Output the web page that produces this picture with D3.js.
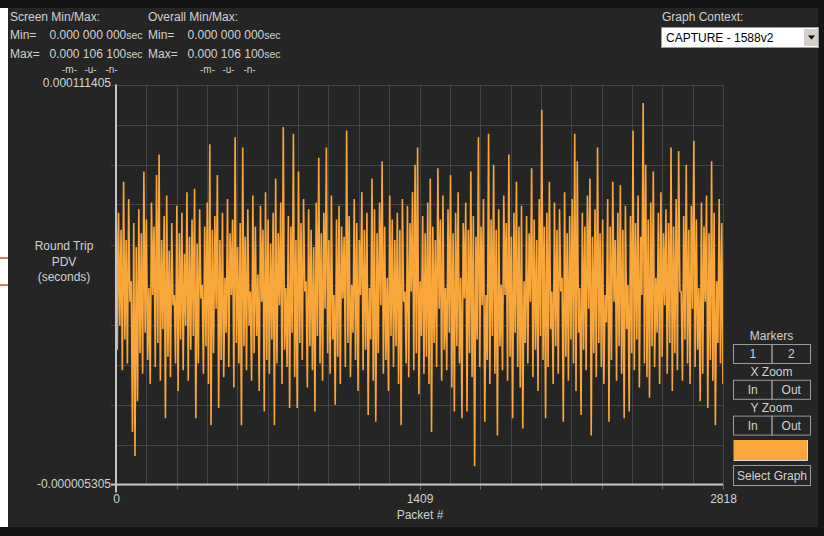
<!DOCTYPE html>
<html>
<head>
<meta charset="utf-8">
<script src="https://cdn.jsdelivr.net/npm/d3@7"></script>
<style>
body { margin: 0; background: #151515; }
svg { display: block; font-family: "Liberation Sans", Arial, sans-serif; }
</style>
</head>
<body>
<div class="container"></div>
<script>
// round trip PDV, microseconds: column tops and bottoms, left to right
const highs = [
  88, 74, 69, 83, 66, 78, 54, 71, 64, 75,
  68, 86, 72, 52, 77, 70, 85, 91, 66, 73,
  79, 63, 71, 50, 76, 68, 74, 62, 80, 67,
  72, 81, 65, 75, 53, 70, 77, 94, 69, 73,
  85, 66, 74, 55, 78, 68, 72, 96, 64, 71,
  93, 67, 75, 51, 79, 70, 56, 76, 69, 80,
  72, 65, 74, 84, 68, 77, 99, 52, 73, 70,
  97, 66, 86, 71, 78, 54, 75, 69, 64, 77,
  90, 68, 74, 93, 66, 79, 50, 72, 76, 70,
  67, 98, 73, 53, 78, 71, 66, 80, 69, 74,
  52, 84, 75, 68, 77, 89, 70, 55, 79, 72,
  66, 74, 69, 78, 51, 76, 71, 80, 88, 93,
  54, 73, 68, 77, 84, 70, 66, 87, 72, 79,
  52, 75, 85, 68, 74, 80, 55, 71, 77, 69,
  86, 73, 67, 96, 70, 78, 50, 97, 72, 88,
  69, 75, 53, 79, 71, 91, 67, 74, 83, 70,
  76, 54, 73, 68, 87, 72, 66, 78, 104, 70,
  74, 83, 51, 77, 69, 75, 55, 80, 68, 73,
  78, 97, 89, 52, 74, 70, 79, 84, 67, 75,
  93, 68, 72, 50, 78, 70, 83, 66, 74, 82,
  69, 76, 53, 73, 98, 71, 79, 67, 106, 88,
  72, 77, 86, 55, 74, 80, 68, 75, 71, 93,
  70, 78, 92, 51, 73, 88, 69, 76, 95, 72,
  52, 77, 70, 79, 68, 89, 74, 54, 78, 71
];
const lows = [
  34, 41, 28, 37, 30, 48, 10, 3, 19, 33,
  27, 39, 31, 24, 50, 29, 36, 25, 40, 14,
  32, 26, 47, 30, 22, 37, 28, 41, 25, 34,
  38, 14, 30, 49, 27, 35, 24, 12, 33, 46,
  17, 31, 26, 39, 29, 50, 23, 36, 30, 12,
  35, 28, 41, 25, 33, 38, 22, 48, 16, 31,
  27, 37, 12, 30, 47, 24, 34, 29, 17, 39,
  26, 17, 36, 31, 51, 23, 35, 28, 16, 38,
  30, 25, 46, 33, 27, 37, 18, 32, 24, 49,
  29, 36, 26, 39, 31, 22, 50, 28, 34, 15,
  37, 25, 13, 33, 47, 27, 31, 22, 38, 29,
  35, 24, 12, 48, 30, 26, 51, 28, 33, 21,
  38, 27, 32, 24, 10, 36, 29, 46, 25, 34,
  28, 39, 23, 16, 35, 30, 14, 49, 16, 33,
  26, 0, 37, 29, 47, 13, 31, 24, 38, 27,
  9, 35, 28, 50, 25, 32, 14, 39, 29, 23,
  11, 36, 30, 48, 26, 34, 22, 38, 31, 14,
  29, 40, 24, 35, 27, 51, 13, 32, 25, 37,
  30, 22, 39, 15, 34, 28, 46, 9, 33, 26,
  36, 29, 24, 42, 13, 31, 48, 25, 35, 27,
  14, 40, 16, 33, 28, 37, 23, 50, 30, 26,
  20, 35, 29, 39, 24, 32, 47, 27, 36, 22,
  33, 28, 51, 25, 37, 30, 24, 46, 29, 34,
  19, 27, 48, 17, 31, 25, 12, 36, 30, 24
];
const packetCount = 2818;
const xTicks = [0, 1409, 2818];
const yExtent = [-0.000005305, 0.000111405];
const statTitles = ["Screen Min/Max:", "Overall Min/Max:"];
const statRows = [["Min=", "0.000 000 000"], ["Max=", "0.000 106 100"]];
const unitMarks = ["-m-", "-u-", "-n-"];
const yTitle = ["Round Trip", "PDV", "(seconds)"];
const xTitle = "Packet #";
const graphContext = "CAPTURE - 1588v2";
const buttonGroups = [["Markers", "1", "2"], ["X Zoom", "In", "Out"], ["Y Zoom", "In", "Out"]];

let pdv = highs.flatMap((h, k) => [h, lows[k]]);
let packets = pdv.map((d, i) => i * packetCount / (pdv.length - 1));

let width = 824, height = 536;
let plot = {left: 116, right: 723, top: 84.5, bottom: 484.5};
let textColor = '#d2d2d2', gridColor = '#464646', lineColor = '#f9a73b';

let svg = d3.select('.container').append('svg')
  .attr('width', width)
  .attr('height', height);

// window frame
svg.append('rect').attr('width', width).attr('height', height).attr('fill', '#151515');
svg.append('rect').attr('x', 0).attr('y', 8).attr('width', 8).attr('height', 519).attr('fill', '#ffffff');
[258, 285].forEach(yy => {
  svg.append('line').attr('x1', 0).attr('x2', 8).attr('y1', yy).attr('y2', yy)
    .attr('stroke', '#e04040').attr('stroke-width', 1.5);
});
svg.append('rect').attr('x', 8).attr('y', 8).attr('width', 810).attr('height', 519).attr('fill', '#252525');

let x = d3.scaleLinear().domain([0, packetCount]).range([plot.left, plot.right]);
let y = d3.scaleLinear().domain(yExtent).range([plot.bottom, plot.top]);

// grid
let xGrid = d3.range(21).map(j => packetCount * j / 20);
let yGrid = d3.range(11).map(j => yExtent[0] + (yExtent[1] - yExtent[0]) * j / 10);

svg.append('g').selectAll('line').data(xGrid).enter().append('line')
  .attr('x1', d => Math.round(x(d)) + 0.5).attr('x2', d => Math.round(x(d)) + 0.5)
  .attr('y1', plot.top).attr('y2', plot.bottom)
  .attr('stroke', gridColor);
svg.append('g').selectAll('line').data(yGrid).enter().append('line')
  .attr('x1', plot.left).attr('x2', plot.right + 0.5)
  .attr('y1', d => Math.round(y(d)) + 0.5).attr('y2', d => Math.round(y(d)) + 0.5)
  .attr('stroke', gridColor);

// small ticks on every other grid line
svg.append('g').selectAll('line').data(xGrid.filter((d, j) => j % 2 == 0)).enter().append('line')
  .attr('x1', d => Math.round(x(d)) + 0.5).attr('x2', d => Math.round(x(d)) + 0.5)
  .attr('y1', plot.bottom).attr('y2', plot.bottom + 5)
  .attr('stroke', '#6a6a6a');
svg.append('g').selectAll('line').data(yGrid.filter((d, j) => j % 2 == 0)).enter().append('line')
  .attr('x1', plot.left - 5).attr('x2', plot.left)
  .attr('y1', d => Math.round(y(d)) + 0.5).attr('y2', d => Math.round(y(d)) + 0.5)
  .attr('stroke', gridColor);

// trace
svg.append('clipPath').attr('id', 'plotClip').append('rect')
  .attr('x', plot.left).attr('y', plot.top - 1)
  .attr('width', plot.right - plot.left).attr('height', plot.bottom - plot.top + 1);

let line = d3.line()
  .x((d, i) => x(packets[i]))
  .y(d => y(d * 1e-6));

svg.append('path')
  .datum(pdv)
  .attr('clip-path', 'url(#plotClip)')
  .attr('fill', 'none')
  .attr('stroke', lineColor)
  .attr('stroke-width', 1.6)
  .attr('stroke-linejoin', 'bevel')
  .attr('d', line);

// axis lines
svg.append('line').attr('x1', plot.left).attr('x2', plot.left)
  .attr('y1', plot.top).attr('y2', plot.bottom + 8)
  .attr('stroke', '#c4c4c4').attr('stroke-width', 2);
svg.append('line').attr('x1', plot.left - 5).attr('x2', plot.right)
  .attr('y1', plot.bottom).attr('y2', plot.bottom)
  .attr('stroke', '#c4c4c4').attr('stroke-width', 2);

// axis labels
let fmt = d3.formatLocale({decimal: '.', thousands: ',', grouping: [3], currency: ['', ''], minus: '-'}).format('.9f');

let xAxis = d3.axisBottom(x).tickValues(xTicks).tickSize(0).tickPadding(0).tickFormat(d3.format('d'));
let gx = svg.append('g').attr('transform', 'translate(0,494)').call(xAxis);
gx.select('.domain').remove();
gx.attr('font-size', 12).attr('font-family', null);
gx.selectAll('text').attr('fill', textColor);

let yAxis = d3.axisLeft(y).tickValues(yExtent).tickSize(0).tickPadding(0).tickFormat(fmt);
let gy = svg.append('g').attr('transform', 'translate(111,0)').call(yAxis);
gy.select('.domain').remove();
gy.attr('font-size', 12).attr('font-family', null);
gy.selectAll('text').attr('fill', textColor);
gy.selectAll('.tick').attr('transform', (d, i) => `translate(0,${i == 0 ? y(d) : y(d) - 1.5})`);

svg.append('text').attr('x', 420).attr('y', 519).attr('text-anchor', 'middle')
  .attr('font-size', 12).attr('fill', textColor).text(xTitle);

svg.append('g').selectAll('text').data(yTitle).enter().append('text')
  .attr('x', 64).attr('y', (d, i) => 250 + i * 15.5)
  .attr('text-anchor', 'middle').attr('font-size', 12).attr('fill', textColor)
  .text(d => d);

// header statistics
let statX = [[10, 49.5], [148, 187.5]];
statTitles.forEach((t, c) => {
  svg.append('text').attr('x', statX[c][0]).attr('y', 21)
    .attr('font-size', 12).attr('fill', textColor).text(t);
  statRows.forEach((r, i) => {
    let yy = 39 + i * 19;
    svg.append('text').attr('x', statX[c][0]).attr('y', yy)
      .attr('font-size', 12).attr('fill', textColor).text(r[0]);
    let v = svg.append('text').attr('x', statX[c][1]).attr('y', yy)
      .attr('font-size', 12).attr('fill', textColor);
    v.append('tspan').text(r[1]);
    v.append('tspan').attr('font-size', 10.5).text('sec');
  });
  svg.append('g').selectAll('text').data(unitMarks).enter().append('text')
    .attr('x', (d, i) => statX[c][1] + 20 + i * 21).attr('y', 73)
    .attr('text-anchor', 'middle').attr('font-size', 10).attr('fill', textColor)
    .text(d => d);
});

// graph context selector
svg.append('text').attr('x', 662).attr('y', 21).attr('font-size', 12).attr('fill', textColor).text('Graph Context:');
svg.append('rect').attr('x', 661.5).attr('y', 27.5).attr('width', 157).attr('height', 20)
  .attr('fill', '#ffffff').attr('stroke', '#9c9c9c');
svg.append('text').attr('x', 666).attr('y', 42).attr('font-size', 12).attr('fill', '#000000').text(graphContext);
svg.append('rect').attr('x', 804).attr('y', 29).attr('width', 14).attr('height', 17).attr('fill', '#d4d0c8');
svg.append('path').attr('d', 'M808,35.5 L815,35.5 L811.5,39.5 Z').attr('fill', '#000000');

// side buttons
function button(bx, by, bw, bh, label) {
  svg.append('rect').attr('x', bx + 0.5).attr('y', by + 0.5).attr('width', bw).attr('height', bh)
    .attr('fill', 'none').attr('stroke', '#9a9a9a');
  svg.append('text').attr('x', bx + bw / 2 + 0.5).attr('y', by + bh / 2 + 4.5)
    .attr('text-anchor', 'middle').attr('font-size', 12).attr('fill', textColor).text(label);
}
buttonGroups.forEach((g, i) => {
  let gy0 = 344 + i * 35.8;
  svg.append('text').attr('x', 771.5).attr('y', gy0 - 4).attr('text-anchor', 'middle')
    .attr('font-size', 12).attr('fill', textColor).text(g[0]);
  button(733, gy0, 38.5, 19, g[1]);
  button(771.5, gy0, 38.5, 19, g[2]);
});
svg.append('rect').attr('x', 733.5).attr('y', 440).attr('width', 74).attr('height', 20).attr('fill', lineColor);
svg.append('path').attr('d', 'M733.5,460.5 H807.5 V440').attr('fill', 'none').attr('stroke', '#d8d8d8');
button(733, 465, 77, 20, 'Select Graph');
</script>
</body>
</html>
